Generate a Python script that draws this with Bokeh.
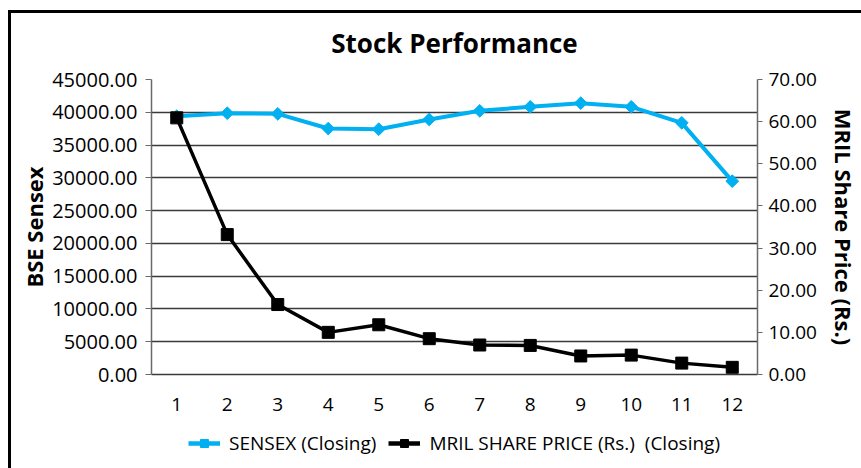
from bokeh.plotting import figure
from bokeh.layouts import column
from bokeh.models import (Range1d, LinearAxis, FixedTicker, NumeralTickFormatter,
                          Legend, LegendItem, FactorRange, Label)
from bokeh.embed import file_html
from bokeh.resources import INLINE
import math

months = ["1", "2", "3", "4", "5", "6", "7", "8", "9", "10", "11", "12"]
sensex = [39400, 39860, 39760, 37520, 37420, 38900, 40220, 40830, 41390, 40830, 38390, 29490]
mril = [60.9, 33.2, 16.6, 10.0, 11.8, 8.5, 7.0, 6.9, 4.4, 4.6, 2.7, 1.7]
left_ticks = [0, 5000, 10000, 15000, 20000, 25000, 30000, 35000, 40000, 45000]
right_ticks = [0, 10, 20, 30, 40, 50, 60, 70]
series_names = ["SENSEX (Closing)", "MRIL SHARE PRICE (Rs.)  (Closing)"]
chart_title = "Stock Performance"

FONT = "Open Sans"
BLUE = "#00B0F0"

# ---- title strip ----
ttl = figure(width=850, height=50, x_range=Range1d(0, 1), y_range=Range1d(0, 50),
             output_backend="svg", toolbar_location=None,
             x_axis_location=None, y_axis_location=None, min_border=0)
ttl.outline_line_color = None
ttl.grid.grid_line_color = None
ttl.add_layout(Label(x=0.5, y=21, text=chart_title, text_align="center", text_baseline="middle",
                     text_font=FONT, text_font_size="26px", text_font_style="bold",
                     text_color="black"))

# ---- main chart ----
p = figure(width=850, height=363, x_range=FactorRange(*months, range_padding=0),
           y_range=Range1d(0, 45000), output_backend="svg", toolbar_location=None,
           min_border_left=140, min_border_right=99, min_border_top=16, min_border_bottom=52)
p.extra_y_ranges = {"right": Range1d(0, 70)}

p.outline_line_color = None
p.background_fill_color = "white"
p.border_fill_color = "white"
p.xgrid.grid_line_color = None
p.ygrid.grid_line_color = "#3a3a3a"
p.ygrid.grid_line_width = 1.3
p.ygrid.ticker = FixedTicker(ticks=left_ticks)

# left axis
ya = p.yaxis[0]
ya.ticker = FixedTicker(ticks=left_ticks)
ya.formatter = NumeralTickFormatter(format="0.00")
ya.axis_label = "BSE Sensex"
ya.axis_label_text_font = FONT
ya.axis_label_text_font_size = "22px"
ya.axis_label_text_font_style = "bold"
ya.axis_label_text_color = "black"
ya.axis_label_standoff = 0
ya.major_label_text_font = FONT
ya.major_label_text_font_size = "20px"
ya.major_label_text_color = "black"
ya.major_label_standoff = 8
ya.major_tick_out = 6
ya.major_tick_in = 0
ya.minor_tick_line_color = None
ya.axis_line_color = "#6a6a6a"
ya.axis_line_width = 1.5
ya.major_tick_line_color = "#6a6a6a"

# right axis
ra = LinearAxis(y_range_name="right", ticker=FixedTicker(ticks=right_ticks),
                formatter=NumeralTickFormatter(format="0.00"))
ra.axis_label = "MRIL Share Price (Rs.)"
ra.axis_label_text_font = FONT
ra.axis_label_text_font_size = "22px"
ra.axis_label_text_font_style = "bold"
ra.axis_label_text_color = "black"
ra.axis_label_standoff = 9
ra.major_label_text_font = FONT
ra.major_label_text_font_size = "19px"
ra.major_label_text_color = "black"
ra.major_label_standoff = 6
ra.major_tick_out = 5
ra.major_tick_in = 0
ra.minor_tick_line_color = None
ra.axis_line_color = "#6a6a6a"
ra.axis_line_width = 1.5
ra.major_tick_line_color = "#6a6a6a"
p.add_layout(ra, "right")

# x axis
xa = p.xaxis[0]
xa.major_label_text_font = FONT
xa.major_label_text_font_size = "19px"
xa.major_label_text_color = "black"
xa.major_label_standoff = 17
xa.major_tick_line_color = None
xa.axis_line_color = "#3a3a3a"
xa.axis_line_width = 1.3

# series
p.line(months, sensex, line_color=BLUE, line_width=4)
p.scatter(months, sensex, marker="square", angle=math.pi / 4, size=9,
          fill_color=BLUE, line_color=BLUE)
p.line(months, mril, line_color="black", line_width=3.5, y_range_name="right")
p.scatter(months, mril, marker="square", size=12, fill_color="black",
          line_color="black", y_range_name="right")

# ---- legend strip (series drawn out of view; only their legend swatches show) ----
leg = figure(width=850, height=42, x_range=FactorRange(*months), y_range=Range1d(-2, -1),
             output_backend="svg", toolbar_location=None,
             x_axis_location=None, y_axis_location=None, min_border=0)
leg.outline_line_color = None
leg.grid.grid_line_color = None
g1 = leg.line(months, sensex, line_color=BLUE, line_width=4.5)
m1 = leg.scatter(months, sensex, marker="square", angle=math.pi / 4, size=5,
                 fill_color=BLUE, line_color=BLUE)
g2 = leg.line(months, mril, line_color="black", line_width=4.5)
m2 = leg.scatter(months, mril, marker="square", angle=math.pi / 4, size=5,
                 fill_color="black", line_color="black")
legend = Legend(items=[LegendItem(label=series_names[0], renderers=[g1, m1]),
                       LegendItem(label=series_names[1], renderers=[g2, m2])],
                orientation="horizontal", location=(37, 12),
                label_text_font=FONT, label_text_font_size="19px", label_text_color="black",
                glyph_width=32, glyph_height=20, label_standoff=9, spacing=12,
                border_line_color=None, background_fill_alpha=0, padding=4, margin=0)
leg.add_layout(legend, "center")

layout = column(ttl, p, leg, styles={"border-left": "3px solid black", "border-top": "3px solid black",
                                     "margin-left": "8px", "margin-top": "10px"})

open("out.html", "w").write(file_html(layout, INLINE))
